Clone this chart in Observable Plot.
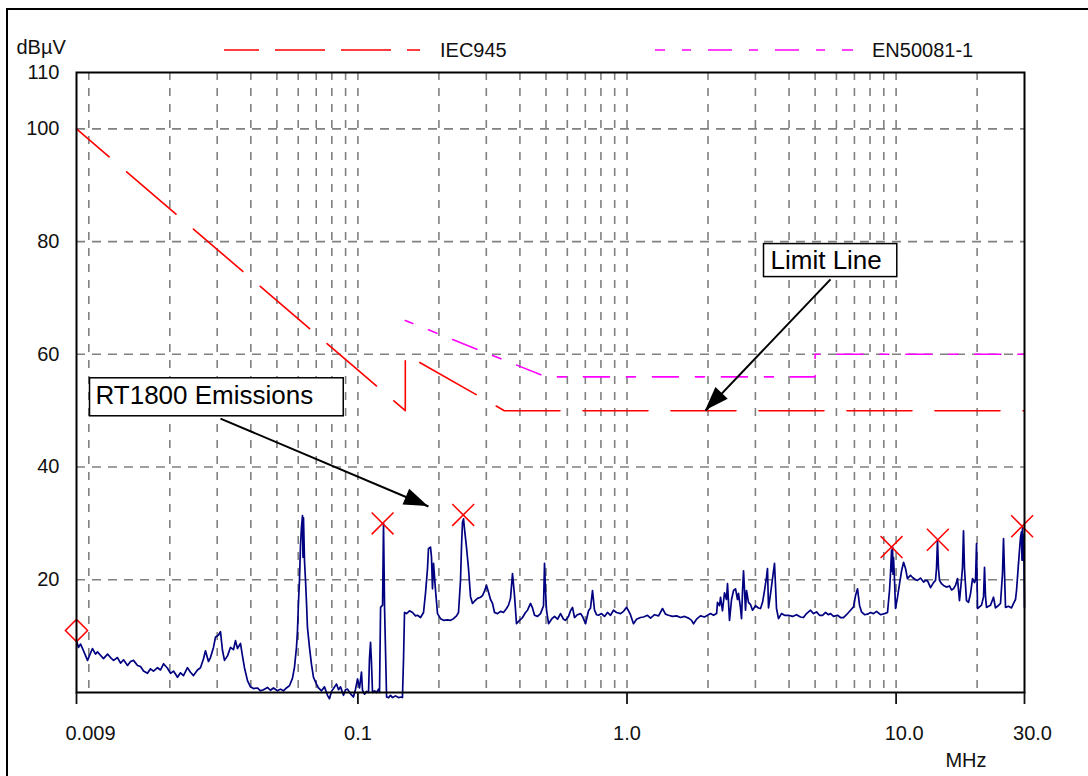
<!DOCTYPE html>
<html>
<head>
<meta charset="utf-8">
<script src="https://cdn.jsdelivr.net/npm/d3@7"></script>
<script src="https://cdn.jsdelivr.net/npm/@observablehq/plot@0.6"></script>
<style>
  body { margin: 0; background: #fff; font-family: "Liberation Sans", Arial, sans-serif; }
  #wrap { position: relative; width: 1088px; height: 776px; overflow: hidden; background: #fff; }
  #chart { position: absolute; left: 0; top: 0; }
  #legend { position: absolute; left: 0; top: 0; }
  #border { position: absolute; left: 6px; top: 8px; width: 1200px; height: 900px;
            border-left: 2px solid #000; border-top: 2px solid #000; pointer-events: none; }
</style>
</head>
<body>
<div id="wrap">
  <div id="chart"></div>
  <svg id="legend" width="1088" height="72"></svg>
  <div id="border"></div>
</div>
<script>
// ---------------- DATA ----------------
// Emission trace (frequency in MHz, level in dBµV)
const traceFreq = [
  0.009, 0.00916, 0.00932, 0.00956, 0.00989, 0.01015, 0.01032, 0.01059, 0.01077, 0.01105,
  0.01134, 0.01174, 0.01204, 0.01236, 0.01278, 0.01312, 0.01346, 0.01393, 0.01429, 0.01466,
  0.01517, 0.01556, 0.01597, 0.01652, 0.01695, 0.01739, 0.01800, 0.01847, 0.01895, 0.01961,
  0.02012, 0.02064, 0.02136, 0.02191, 0.02248, 0.02326, 0.02387, 0.02449, 0.02534, 0.02600,
  0.02668, 0.02714, 0.02784, 0.02832, 0.02906, 0.02956, 0.03033, 0.03085, 0.03138, 0.03193,
  0.03276, 0.03361, 0.03448, 0.03508, 0.03568, 0.03661, 0.03724, 0.03788, 0.03887, 0.03988,
  0.04091, 0.04234, 0.04344, 0.04457, 0.04612, 0.04731, 0.04854, 0.05023, 0.05154, 0.05288,
  0.05425, 0.05566, 0.05711, 0.05812, 0.05912, 0.05963, 0.06014, 0.06066, 0.06118, 0.06170,
  0.06223, 0.06250, 0.06277, 0.06331, 0.06385, 0.06440, 0.06495, 0.06607, 0.06721, 0.06838,
  0.07016, 0.07137, 0.07323, 0.07513, 0.07708, 0.07841, 0.07977, 0.08115, 0.08326, 0.08470,
  0.08617, 0.08841, 0.08994, 0.09149, 0.09378, 0.09622, 0.09789, 0.0997, 0.1014, 0.1031,
  0.1040, 0.1058, 0.1077, 0.1095, 0.1104, 0.1114, 0.1123, 0.1133, 0.1153, 0.1173,
  0.1193, 0.1203, 0.1214, 0.1235, 0.1245, 0.1256, 0.1278, 0.1300, 0.1322, 0.1345,
  0.1379, 0.1415, 0.1452, 0.1464, 0.1478, 0.1490, 0.1516, 0.1555, 0.1596, 0.1637,
  0.1665, 0.1709, 0.1753, 0.1783, 0.1814, 0.1829, 0.1861, 0.1877, 0.1893, 0.1910,
  0.1943, 0.1976, 0.2028, 0.2081, 0.2153, 0.2209, 0.2266, 0.2325, 0.2365, 0.2406,
  0.2427, 0.2447, 0.2469, 0.2490, 0.2533, 0.2576, 0.2621, 0.2666, 0.2712, 0.2782,
  0.2855, 0.2904, 0.2954, 0.3005, 0.3058, 0.3110, 0.3164, 0.3219, 0.3302, 0.3388,
  0.3476, 0.3566, 0.3628, 0.3690, 0.3754, 0.3819, 0.3884, 0.3986, 0.4090, 0.4196,
  0.4269, 0.4379, 0.4455, 0.4532, 0.4650, 0.4771, 0.4895, 0.4937, 0.4980, 0.5022,
  0.5109, 0.5242, 0.5378, 0.5518, 0.5662, 0.5809, 0.5909, 0.6062, 0.6167, 0.6273,
  0.6381, 0.6547, 0.6718, 0.6833, 0.7012, 0.7194, 0.7318, 0.7444, 0.7573, 0.7703,
  0.7836, 0.8040, 0.8249, 0.8463, 0.8683, 0.8909, 0.9140, 0.9459, 0.9705, 0.996,
  1.013, 1.030, 1.057, 1.085, 1.122, 1.152, 1.192, 1.223, 1.266, 1.310,
  1.355, 1.390, 1.426, 1.476, 1.528, 1.581, 1.636, 1.693, 1.737, 1.767,
  1.813, 1.875, 1.941, 1.992, 2.043, 2.097, 2.152, 2.169, 2.207, 2.226,
  2.264, 2.303, 2.343, 2.363, 2.404, 2.446, 2.488, 2.531, 2.574, 2.596,
  2.641, 2.664, 2.687, 2.710, 2.757, 2.780, 2.828, 2.877, 2.927, 3.003,
  3.081, 3.134, 3.189, 3.244, 3.300, 3.327, 3.356, 3.414, 3.473, 3.533,
  3.594, 3.656, 3.751, 3.849, 3.983, 4.122, 4.265, 4.413, 4.528, 4.646,
  4.808, 4.933, 5.062, 5.193, 5.329, 5.467, 5.608, 5.705, 5.854, 6.057,
  6.214, 6.376, 6.542, 6.770, 6.946, 7.066, 7.188, 7.312, 7.439, 7.632,
  7.830, 8.033, 8.242, 8.457, 8.750, 9.056, 9.291, 9.451, 9.532, 9.616,
  9.660, 9.698, 9.740, 9.780, 9.865, 9.949, 10.12, 10.30, 10.48, 10.66,
  10.84, 11.02, 11.31, 11.51, 11.81, 12.01, 12.32, 12.65, 12.86, 13.09,
  13.43, 13.77, 14.01, 14.13, 14.25, 14.37, 14.50, 14.75, 15.00, 15.39,
  15.79, 16.06, 16.34, 16.62, 16.91, 17.20, 17.50, 17.65, 17.80, 17.95,
  18.26, 18.58, 18.90, 19.23, 19.56, 19.73, 19.90, 20.07, 20.42, 20.77,
  21.13, 21.31, 21.49, 21.67, 22.05, 22.43, 23.01, 23.40, 23.81, 24.43,
  24.85, 25.07, 25.29, 25.50, 26.16, 26.85, 27.31, 27.78, 28.02, 28.50,
  28.99, 29.24, 29.36, 29.49, 29.60, 29.75, 29.88, 30.0
];
const traceLevel = [
  9.2, 8.0, 8.6, 7.4, 5.7, 7.0, 7.8, 6.8, 7.2, 6.6,
  6.0, 6.8, 6.2, 5.7, 6.2, 5.2, 5.8, 4.8, 5.5, 5.7,
  4.8, 4.6, 3.8, 3.4, 4.2, 3.8, 4.4, 4.0, 5.1, 4.3,
  3.4, 3.8, 2.7, 3.5, 3.0, 4.4, 3.6, 3.0, 4.0, 4.4,
  6.0, 7.4, 5.5, 6.2, 8.0, 9.8, 10.2, 10.8, 7.5, 5.7,
  6.5, 8.0, 7.6, 9.2, 7.8, 8.7, 6.5, 4.4, 2.1, 1.0,
  0.7, 0.8, 0.3, 0.5, 0.9, 0.4, 0.8, 0.3, 0.6, 0.3,
  0.8, 1.2, 2.5, 4.5, 8.0, 11.0, 16.0, 20.0, 26.0, 29.3,
  31.4, 24.0, 31.0, 23.4, 20.0, 16.0, 11.5, 8.0, 5.0, 2.7,
  1.5, 0.8, 0.3, 1.0, -0.5, -1.1, 0.2, 0.7, 1.5, 0.5,
  1.0, -0.5, 0.5, 0.6, -0.2, -0.8, 0.5, 2.4, 0.8, 3.6,
  0.4, -0.3, 0.2, 0.0, 6.0, 8.9, 5.4, 0.0, 0.3, 0.0,
  0.6, 0.0, 15.1, 15.5, 30.0, 15.1, -0.8, -0.9, -0.5, -0.9,
  -0.6, -0.9, -0.8, -0.9, 6.2, 14.2, 14.0, 14.5, 14.2, 13.6,
  13.7, 13.3, 14.2, 17.6, 22.0, 25.5, 25.8, 24.0, 18.4, 22.9,
  18.1, 14.0, 13.1, 12.8, 12.9, 12.8, 13.1, 13.6, 14.2, 19.9,
  26.0, 30.2, 30.8, 29.0, 25.7, 22.0, 17.0, 15.8, 16.2, 16.7,
  16.9, 17.2, 18.0, 19.0, 17.8, 16.5, 15.8, 14.2, 14.0, 14.4,
  14.2, 14.9, 15.5, 16.7, 21.1, 17.2, 12.2, 12.8, 13.3, 14.2,
  14.6, 15.8, 15.0, 13.7, 13.5, 14.0, 15.4, 22.9, 18.0, 14.6,
  12.2, 13.0, 13.5, 13.0, 14.0, 13.0, 12.8, 13.5, 14.5, 15.1,
  13.3, 13.8, 14.0, 13.5, 12.2, 14.5, 15.0, 18.1, 14.6, 13.8,
  13.7, 14.0, 13.5, 14.2, 13.7, 14.6, 14.2, 14.0, 14.4, 15.1,
  14.5, 13.8, 12.2, 13.0, 13.3, 13.4, 13.7, 13.2, 13.8, 13.6,
  14.9, 13.9, 13.7, 13.5, 13.6, 13.3, 13.5, 13.2, 12.8, 12.2,
  13.0, 13.6, 13.4, 13.7, 14.0, 13.7, 14.0, 16.0, 15.4, 16.9,
  14.5, 17.7, 16.5, 19.3, 12.8, 16.5, 18.1, 18.4, 16.5, 17.6,
  15.0, 13.1, 18.0, 21.6, 14.6, 18.1, 16.0, 15.6, 14.6, 15.4,
  15.0, 14.9, 16.0, 18.1, 20.5, 22.0, 15.0, 17.5, 20.2, 22.9,
  14.9, 13.1, 14.0, 13.7, 13.7, 13.5, 13.8, 13.4, 13.3, 14.0,
  14.6, 14.0, 14.3, 13.7, 13.7, 14.2, 13.8, 14.0, 13.5, 13.7,
  13.3, 13.3, 13.8, 14.6, 15.2, 17.2, 18.4, 15.5, 14.3, 13.8,
  13.9, 14.2, 14.0, 14.4, 13.8, 14.0, 14.2, 18.1, 21.1, 25.2,
  21.5, 25.8, 21.0, 24.0, 20.0, 14.9, 16.9, 19.3, 21.6, 23.1,
  22.0, 20.2, 20.8, 20.4, 20.0, 19.9, 20.3, 19.6, 19.9, 19.8,
  18.6, 19.5, 19.9, 22.0, 27.0, 22.0, 19.9, 19.3, 19.0, 18.7,
  18.9, 18.2, 18.4, 19.0, 20.2, 16.3, 20.0, 22.2, 28.7, 22.0,
  16.3, 16.0, 17.5, 20.2, 19.5, 20.0, 26.4, 14.9, 15.2, 15.5,
  17.0, 22.2, 17.0, 15.1, 15.3, 15.5, 16.9, 15.0, 15.3, 15.8,
  21.1, 27.3, 21.0, 15.1, 15.3, 15.0, 15.8, 16.5, 18.1, 22.9,
  27.5, 28.5, 23.5, 29.3, 23.5, 28.0, 23.1, 15.1
];

// Limit lines
const iecFreq  = [0.009, 0.15, 0.15, 0.35, 30];
const iecLevel = [100, 50, 60, 50, 50];
const enFreq   = [0.15, 0.5, 5, 5, 30];
const enLevel  = [66, 56, 56, 60, 60];

// Peak markers (x) and start marker (diamond)
const peakFreq  = [0.1235, 0.2462, 9.616, 14.29, 29.4];
const peakLevel = [30.0, 31.5, 25.8, 27.1, 29.5];
const startFreq  = [0.009];
const startLevel = [11.0];

// Axes
const xTickValues = [0.009, 0.1, 1, 10, 30];
const xTickLabels = ["0.009", "0.1", "1.0", "10.0", "30.0"];
const yTickValues = [20, 40, 60, 80, 100, 110];
const gridFreq = [0.01, 0.02, 0.03, 0.04, 0.05, 0.06, 0.07, 0.08, 0.09,
                  0.1, 0.2, 0.3, 0.4, 0.5, 0.6, 0.7, 0.8, 0.9,
                  1, 2, 3, 4, 5, 6, 7, 8, 9, 10, 20];
const gridLevel = [20, 40, 60, 80, 100];

// Annotations
const annotationLabels = ["Limit Line", "RT1800 Emissions"];
const annotationFreq   = [3.414, 0.01059];
const annotationLevel  = [76.6, 52.7];
const arrowFrom = [[5.705, 73.3], [0.03085, 48.6]];
const arrowTo   = [[1.958, 50.0], [0.1829, 33.0]];

// Legend
const seriesNames = ["IEC945", "EN50081-1"];

// ---------------- STYLE ----------------
const RED = "#ff0000", MAGENTA = "#ff00ff", NAVY = "#000080", GRID = "#808080";
const xLabelShift = [14, 0, 0, 8, 8];
const boxStyle = [{padL: 7, padR: 15, h: 33, shift: 0}, {padL: 6, padR: 30, h: 38, shift: 2}];
const legendLayout = [
  {x1: 224, x2: 420, tx: 440, color: RED, dash: "50,16", offset: 15},
  {x1: 655, x2: 853, tx: 872, color: MAGENTA, dash: "24,17,9,17", offset: 14}
];

// ---------------- BUILD ----------------
const trace = traceFreq.map((f, i) => ({f, v: traceLevel[i]}));
const iec = iecFreq.map((f, i) => ({f, v: iecLevel[i]}));
const en = enFreq.map((f, i) => ({f, v: enLevel[i]}));
const peaks = peakFreq.map((f, i) => ({f, v: peakLevel[i]}));
const start = startFreq.map((f, i) => ({f, v: startLevel[i]}));
const annotations = annotationLabels.map((label, i) => ({label, f: annotationFreq[i], v: annotationLevel[i]}));
const arrows = arrowFrom.map((a, i) => ({f1: a[0], v1: a[1], f2: arrowTo[i][0], v2: arrowTo[i][1]}));

const chart = Plot.plot({
  width: 1088,
  height: 776,
  marginLeft: 76,
  marginRight: 64,
  marginTop: 72,
  marginBottom: 84,
  style: {fontFamily: '"Liberation Sans", Arial, sans-serif', fontSize: "20px", background: "transparent", color: "#111", overflow: "visible"},
  x: {type: "log", domain: [0.009, 30]},
  y: {domain: [0, 110]},
  marks: [
    Plot.ruleX(gridFreq, {stroke: GRID, strokeWidth: 1.6, strokeDasharray: "8,8"}),
    Plot.ruleY(gridLevel, {stroke: GRID, strokeWidth: 1.6, strokeDasharray: "9,7"}),
    Plot.line(iec, {x: "f", y: "v", stroke: RED, strokeWidth: 1.6, strokeDasharray: "65,23", strokeDashoffset: 22}),
    Plot.line(en, {x: "f", y: "v", stroke: MAGENTA, strokeWidth: 1.6, strokeDasharray: "26,17,9,17", strokeDashoffset: 18}),
    Plot.line(trace, {x: "f", y: "v", stroke: NAVY, strokeWidth: 1.7}),
    Plot.dot(peaks, {x: "f", y: "v", symbol: "times", r: 10, stroke: RED, strokeWidth: 1.5}),
    Plot.dot(start, {x: "f", y: "v", symbol: "diamond2", r: 10, stroke: RED, strokeWidth: 1.5, fill: "none"}),
    Plot.frame({stroke: "#000", strokeWidth: 2}),
    Plot.axisY({ticks: yTickValues, tickSize: 0, tickPadding: 17, tickFormat: d3.format("d")}),
    Plot.axisX({ticks: xTickValues, tickSize: 12, tickFormat: () => "", strokeWidth: 1.8}),
    ...xTickValues.map((v, i) => Plot.text([v], {x: d => d, text: () => xTickLabels[i], frameAnchor: "bottom", lineAnchor: "middle", dy: 41, dx: xLabelShift[i]})),
    Plot.text(["dBµV"], {frameAnchor: "top-left", lineAnchor: "middle", dx: -60, dy: -25, textAnchor: "start"}),
    Plot.text(["MHz"], {frameAnchor: "bottom-right", lineAnchor: "middle", dx: -38, dy: 68}),
    Plot.link(arrows, {x1: "f1", y1: "v1", x2: "f2", y2: "v2", stroke: "#000", strokeWidth: 2}),
    Plot.text(annotations, {x: "f", y: "v", text: "label", textAnchor: "start", lineAnchor: "middle", fontSize: 26, fill: "#000"})
  ]
});

document.getElementById("chart").append(chart);

// boxes behind annotation texts
const svgns = "http://www.w3.org/2000/svg";
d3.select(chart).selectAll("text").each(function() {
  const i = annotationLabels.indexOf(this.textContent);
  if (i < 0) return;
  const b = this.getBBox();
  const s = boxStyle[i];
  const cy = b.y + b.height / 2 + s.shift;
  const r = document.createElementNS(svgns, "rect");
  r.setAttribute("x", b.x - s.padL);
  r.setAttribute("y", cy - s.h / 2);
  r.setAttribute("width", b.width + s.padL + s.padR);
  r.setAttribute("height", s.h);
  r.setAttribute("fill", "#fff");
  r.setAttribute("stroke", "#000");
  r.setAttribute("stroke-width", 1.5);
  const t = this.getAttribute("transform");
  if (t) r.setAttribute("transform", t);
  this.parentNode.insertBefore(r, this);
});

// filled arrowheads at the tips, positioned with the plot's scales
const sx = chart.scale("x"), sy = chart.scale("y");
arrows.forEach(a => {
  const x1 = sx.apply(a.f1), y1 = sy.apply(a.v1), x2 = sx.apply(a.f2), y2 = sy.apply(a.v2);
  const dx = x2 - x1, dy = y2 - y1, len = Math.hypot(dx, dy);
  const ux = dx / len, uy = dy / len, nx = -uy, ny = ux;
  const L = 24, W = 8.5;
  const pts = [[x2, y2], [x2 - ux * L + nx * W, y2 - uy * L + ny * W], [x2 - ux * L - nx * W, y2 - uy * L - ny * W]];
  d3.select(chart).append("polygon").attr("points", pts.map(p => p.join(",")).join(" ")).attr("fill", "#000");
});

// legend (above the plot frame)
const lg = d3.select("#legend");
legendLayout.forEach((l, i) => {
  lg.append("line").attr("x1", l.x1).attr("x2", l.x2).attr("y1", 50).attr("y2", 50)
    .attr("stroke", l.color).attr("stroke-width", 1.6)
    .attr("stroke-dasharray", l.dash).attr("stroke-dashoffset", l.offset);
  lg.append("text").attr("x", l.tx).attr("y", 50).attr("dy", "0.35em")
    .attr("font-family", '"Liberation Sans", Arial, sans-serif').attr("font-size", 20).attr("fill", "#111")
    .text(seriesNames[i]);
});
</script>
</body>
</html>
